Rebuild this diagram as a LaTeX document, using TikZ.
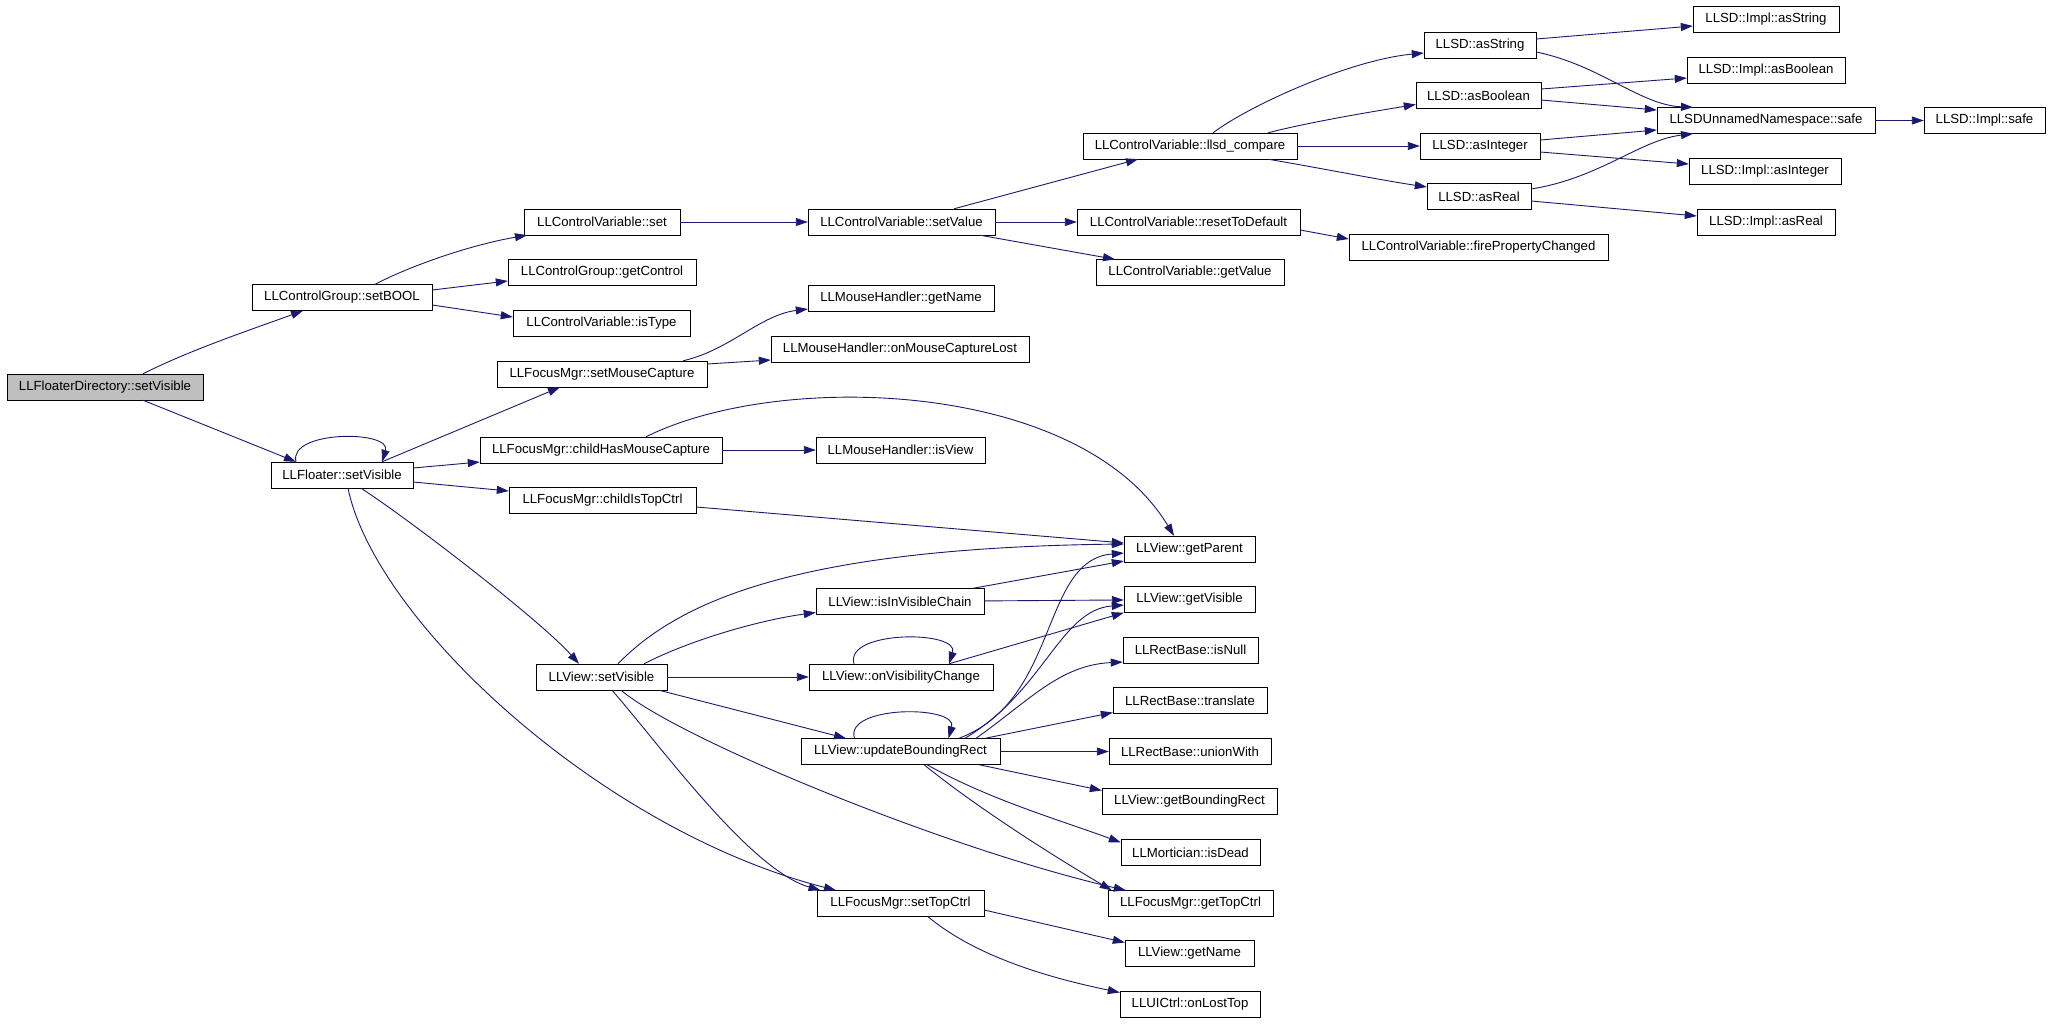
\documentclass[tikz,border=0pt]{standalone}
\usepackage{fontspec}
\setmainfont{Liberation Sans}
\usetikzlibrary{arrows.meta}
\definecolor{callblue}{HTML}{191970}
\tikzset{fn/.style={draw=black, rectangle, minimum height=26pt, inner sep=0pt,
   font=\fontsize{13.2}{15}\selectfont},
 root/.style={fn, fill=gray!50},
 call/.style={draw=callblue, line width=0.9pt, -{Triangle[length=12pt,width=8pt]}},
 }
\begin{document}
\begin{tikzpicture}[x=1pt, y=-1pt]
    \path[fill=white, use as bounding box] (0,0) rectangle (2051,1023);
    \node[root, minimum width=196] (fd) at (105,387) {LLFloaterDirectory::setVisible};
    \node[fn, minimum width=180] (setbool) at (342,297.5) {LLControlGroup::setBOOL};
    \node[fn, minimum width=142] (flvis) at (342,475) {LLFloater::setVisible};
    \node[fn, minimum width=156] (cvset) at (602,222) {LLControlVariable::set};
    \node[fn, minimum width=188] (getcontrol) at (602,272.5) {LLControlGroup::getControl};
    \node[fn, minimum width=177] (istype) at (601.5,323) {LLControlVariable::isType};
    \node[fn, minimum width=210] (setmouse) at (602,374) {LLFocusMgr::setMouseCapture};
    \node[fn, minimum width=242] (childhas) at (601,450) {LLFocusMgr::childHasMouseCapture};
    \node[fn, minimum width=187] (childtop) at (602.5,500.5) {LLFocusMgr::childIsTopCtrl};
    \node[fn, minimum width=131] (viewvis) at (601.5,677) {LLView::setVisible};
    \node[fn, minimum width=187] (setvalue) at (901.5,222) {LLControlVariable::setValue};
    \node[fn, minimum width=186] (mhname) at (901,298) {LLMouseHandler::getName};
    \node[fn, minimum width=258] (mhlost) at (900,349) {LLMouseHandler::onMouseCaptureLost};
    \node[fn, minimum width=169] (mhview) at (900.5,450) {LLMouseHandler::isView};
    \node[fn, minimum width=168] (chain) at (900,601.5) {LLView::isInVisibleChain};
    \node[fn, minimum width=184] (onvis) at (901,677) {LLView::onVisibilityChange};
    \node[fn, minimum width=199] (updrect) at (900.5,751.5) {LLView::updateBoundingRect};
    \node[fn, minimum width=167] (settop) at (900.5,903.5) {LLFocusMgr::setTopCtrl};
    \node[fn, minimum width=214] (compare) at (1190,146) {LLControlVariable::llsd\_compare};
    \node[fn, minimum width=223] (reset) at (1188.5,222) {LLControlVariable::resetToDefault};
    \node[fn, minimum width=188] (getvalue) at (1190,272.5) {LLControlVariable::getValue};
    \node[fn, minimum width=131] (parent) at (1189.5,549) {LLView::getParent};
    \node[fn, minimum width=131] (visible) at (1189.5,599.5) {LLView::getVisible};
    \node[fn, minimum width=135] (isnull) at (1190.5,650) {LLRectBase::isNull};
    \node[fn, minimum width=154] (translate) at (1190,700.5) {LLRectBase::translate};
    \node[fn, minimum width=162] (union) at (1190,751.5) {LLRectBase::unionWith};
    \node[fn, minimum width=175] (boundrect) at (1189.5,801.5) {LLView::getBoundingRect};
    \node[fn, minimum width=139] (isdead) at (1190.5,852.5) {LLMortician::isDead};
    \node[fn, minimum width=165] (gettop) at (1190.5,903.5) {LLFocusMgr::getTopCtrl};
    \node[fn, minimum width=129] (viewname) at (1189.5,953.5) {LLView::getName};
    \node[fn, minimum width=140] (losttop) at (1190,1004.5) {LLUICtrl::onLostTop};
    \node[fn, minimum width=112] (asstring) at (1480,45) {LLSD::asString};
    \node[fn, minimum width=125] (asbool) at (1478.5,95.5) {LLSD::asBoolean};
    \node[fn, minimum width=120] (asint) at (1480,146) {LLSD::asInteger};
    \node[fn, minimum width=104] (asreal) at (1479,196.5) {LLSD::asReal};
    \node[fn, minimum width=259] (fireprop) at (1478.5,247) {LLControlVariable::firePropertyChanged};
    \node[fn, minimum width=146] (implstring) at (1766,19) {LLSD::Impl::asString};
    \node[fn, minimum width=158] (implbool) at (1766,70) {LLSD::Impl::asBoolean};
    \node[fn, minimum width=218] (safe) at (1766,120.5) {LLSDUnnamedNamespace::safe};
    \node[fn, minimum width=152] (implint) at (1765,171.5) {LLSD::Impl::asInteger};
    \node[fn, minimum width=138] (implreal) at (1766,222) {LLSD::Impl::asReal};
    \node[fn, minimum width=121] (implsafe) at (1984.5,120.5) {LLSD::Impl::safe};

    \draw[call] ([xshift=38pt]fd.north) .. controls (190,350) and (250,330) .. ([xshift=-39pt]setbool.south);
    \draw[call] ([xshift=38pt]fd.south) -- ([xshift=-46pt]flvis.north);
    \draw[call] ([xshift=33pt]setbool.north) .. controls (410,266) and (470,245) .. ([xshift=-75pt]cvset.south);
    \draw[call] ([yshift=7.5pt]setbool.east) -- ([yshift=-8.5pt]getcontrol.west);
    \draw[call] ([yshift=-7.5pt]setbool.east) -- ([yshift=6pt]istype.west);
    \draw[call] (cvset) -- (setvalue);
    \draw[call] ([xshift=52.5pt]setvalue.north) -- ([xshift=-52pt]compare.south);
    \draw[call] (setvalue) -- (reset);
    \draw[call] ([xshift=78.5pt]setvalue.south) -- ([xshift=-75pt]getvalue.north);
    \draw[call] ([yshift=-8pt]reset.east) -- ([yshift=8pt]fireprop.west);
    \draw[call] ([xshift=23pt]compare.north) .. controls (1250,105) and (1350,60) .. ([yshift=-8pt]asstring.west);
    \draw[call] ([xshift=78pt]compare.north) .. controls (1310,122) and (1370,112) .. ([yshift=-9pt]asbool.west);
    \draw[call] (compare) -- (asint);
    \draw[call] ([xshift=78pt]compare.south) .. controls (1320,168) and (1380,180) .. ([yshift=9.5pt]asreal.west);
    \draw[call] ([yshift=6pt]asstring.east) -- ([yshift=-7pt]implstring.west);
    \draw[call] ([yshift=-7pt]asstring.east) .. controls (1600,65) and (1640,105) .. ([xshift=-73pt]safe.north);
    \draw[call] ([yshift=6.5pt]asbool.east) -- ([yshift=-8pt]implbool.west);
    \draw[call] ([yshift=-4.5pt]asbool.east) -- ([yshift=10.5pt]safe.west);
    \draw[call] ([yshift=6pt]asint.east) -- ([yshift=-9.5pt]safe.west);
    \draw[call] ([yshift=-6pt]asint.east) -- ([yshift=7.5pt]implint.west);
    \draw[call] ([yshift=7.5pt]asreal.east) .. controls (1600,178) and (1640,140) .. ([xshift=-73pt]safe.south);
    \draw[call] ([yshift=-4.5pt]asreal.east) -- ([yshift=6pt]implreal.west);
    \draw[call] (safe) -- (implsafe);

    \draw[call] ([xshift=-46pt]flvis.north) .. controls (288,430) and (392,430) .. ([xshift=40pt]flvis.north);
    \draw[call] ([xshift=40pt]flvis.north) -- ([xshift=-42pt]setmouse.south);
    \draw[call] ([yshift=7pt]flvis.east) -- ([yshift=-12pt]childhas.west);
    \draw[call] ([yshift=-7pt]flvis.east) -- ([yshift=9.5pt]childtop.west);
    \draw[call] ([xshift=19pt]flvis.south) .. controls (410,520) and (540,620) .. ([xshift=-22.5pt]viewvis.north);
    \draw[call] ([xshift=6pt]flvis.south) .. controls (375,620) and (600,830) .. ([xshift=-64.5pt]settop.north);
    \draw[call] ([xshift=81pt]setmouse.north) .. controls (730,350) and (760,315) .. ([yshift=-11pt]mhname.west);
    \draw[call] ([yshift=10pt]setmouse.east) -- ([yshift=-11pt]mhlost.west);
    \draw[call] (childhas) -- (mhview);
    \draw[call] ([xshift=45pt]childhas.north) .. controls (780,370) and (1080,380) .. ([xshift=-15.5pt]parent.north);
    \draw[call] ([yshift=-6.5pt]childtop.east) -- ([yshift=6pt]parent.west);

    \draw[call] ([xshift=16.5pt]viewvis.north) .. controls (680,600) and (800,548) .. ([yshift=5pt]parent.west);
    \draw[call] ([xshift=42.5pt]viewvis.north) .. controls (690,640) and (760,620) .. ([yshift=-11pt]chain.west);
    \draw[call] (viewvis) -- (onvis);
    \draw[call] ([xshift=57.5pt]viewvis.south) -- ([xshift=-54.5pt]updrect.north);
    \draw[call] ([xshift=19.5pt]viewvis.south) .. controls (680,740) and (950,850) .. ([xshift=18pt]gettop.north west);
    \draw[call] ([xshift=10.5pt]viewvis.south) .. controls (660,745) and (750,870) .. ([xshift=-80pt]settop.north);
    \draw[call] ([xshift=73pt]chain.north) -- ([yshift=-12pt]parent.west);
    \draw[call] (chain) -- (visible);
    \draw[call] ([xshift=-47pt]onvis.north) .. controls (844,630) and (960,630) .. ([xshift=48pt]onvis.north);
    \draw[call] ([xshift=48pt]onvis.north) -- (visible.south west);

    \draw[call] ([xshift=-46pt]updrect.north) .. controls (844,705) and (958,705) .. ([xshift=48pt]updrect.north);
    \draw[call] ([xshift=58.5pt]updrect.north) .. controls (1060,700) and (1040,560) .. ([yshift=-4pt]parent.west);
    \draw[call] ([xshift=64.5pt]updrect.north) .. controls (1045,690) and (1060,610) .. ([yshift=-5.5pt]visible.west);
    \draw[call] ([xshift=75.5pt]updrect.north) .. controls (1030,700) and (1060,665) .. ([yshift=-12pt]isnull.west);
    \draw[call] ([xshift=84.5pt]updrect.north) -- ([yshift=-12pt]translate.west);
    \draw[call] (updrect) -- (union);
    \draw[call] ([xshift=78.5pt]updrect.south) -- ([yshift=11pt]boundrect.west);
    \draw[call] ([xshift=26.5pt]updrect.south) .. controls (990,800) and (1060,820) .. ([yshift=10pt]isdead.west);
    \draw[call] ([xshift=23.5pt]updrect.south) .. controls (980,810) and (1060,860) .. ([xshift=4pt]gettop.north west);
    \draw[call] ([yshift=-6.5pt]settop.east) -- ([yshift=11pt]viewname.west);
    \draw[call] ([xshift=27.5pt]settop.south) .. controls (980,960) and (1060,980) .. ([yshift=12pt]losttop.west);
\end{tikzpicture}
\end{document}
